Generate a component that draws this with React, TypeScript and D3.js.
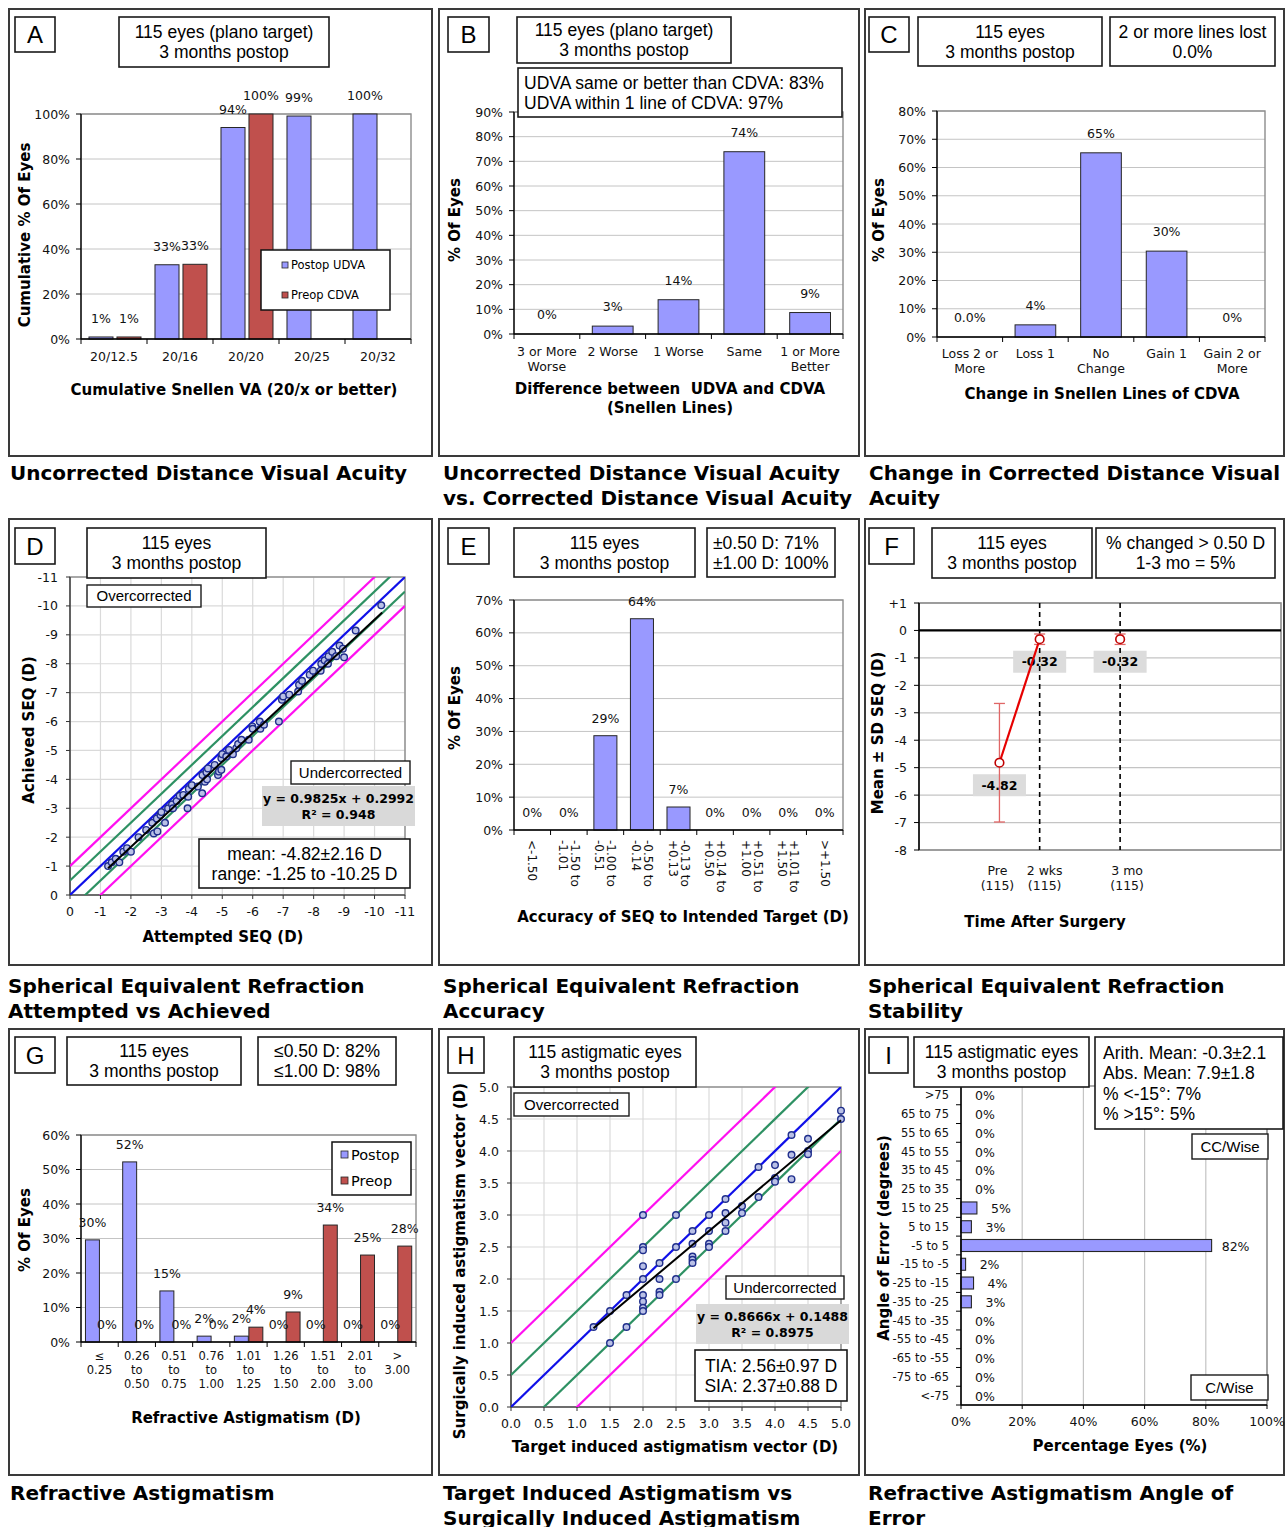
import React from 'react';
import * as d3 from 'd3';

const W = 1285;
const H = 1527;
const FA = "'Liberation Sans', Arial, Helvetica, sans-serif";
const FV = "'DejaVu Sans', Verdana, sans-serif";
const BAR_BLUE = '#9999FF';
const BAR_RED = '#C0504D';
const BAR_EDGE = '#262626';
const GRID = '#C4C4C4';
const LIGHT_GRID = '#DADADA';
const PLOT_EDGE = '#8C8C8C';
const LINE_BLUE = '#1010E8';
const LINE_GREEN = '#2E9163';
const LINE_MAGENTA = '#FF10F0';

// ---------- Panel A: cumulative UDVA ----------
const aCategories = ['20/12.5', '20/16', '20/20', '20/25', '20/32'];
const aPostopUDVA = [0.9, 33, 94, 99.1, 100];
const aPreopCDVA = [0.9, 33.2, 100, null, null];
const aPostopLabels = ['1%', '33%', '94%', '99%', '100%'];
const aPreopLabels = ['1%', '33%', '100%', null, null];
const aYTicks = [0, 20, 40, 60, 80, 100];

// ---------- Panel B: UDVA vs CDVA ----------
const bCategories = ['3 or More\nWorse', '2 Worse', '1 Worse', 'Same', '1 or More\nBetter'];
const bValues = [0, 3.2, 13.9, 73.9, 8.7];
const bLabels = ['0%', '3%', '14%', '74%', '9%'];
const bYTicks = [0, 10, 20, 30, 40, 50, 60, 70, 80, 90];

// ---------- Panel C: change in CDVA ----------
const cCategories = ['Loss 2 or\nMore', 'Loss 1', 'No\nChange', 'Gain 1', 'Gain 2 or\nMore'];
const cValues = [0, 4.3, 65.2, 30.4, 0];
const cLabels = ['0.0%', '4%', '65%', '30%', '0%'];
const cYTicks = [0, 10, 20, 30, 40, 50, 60, 70, 80];

// ---------- Panel D: attempted vs achieved SEQ ----------
const dAttempted = [-1.25, -1.37, -1.5, -1.62, -1.75, -1.87, -2.0, -2.25, -2.5, -2.7, -2.75, -2.87, -2.85, -2.97, -3.0, -3.12, -3.22, -3.35, -3.38, -3.5, -3.6, -3.72, -3.86, -3.88, -3.9, -4.0, -4.2, -4.34, -4.35, -4.43, -4.48, -4.5, -4.53, -4.75, -4.86, -4.89, -4.97, -4.97, -5.0, -5.13, -5.22, -5.35, -5.46, -5.52, -5.63, -5.87, -5.99, -6.0, -6.23, -6.25, -6.37, -6.86, -6.96, -7.0, -7.2, -7.49, -7.52, -7.62, -7.87, -7.98, -8.23, -8.25, -8.36, -8.47, -8.49, -8.61, -8.74, -8.85, -8.96, -9.0, -9.38, -10.22];
const dAchieved = [-1.0, -1.13, -1.25, -1.13, -1.5, -1.62, -1.5, -2.0, -2.25, -2.5, -2.13, -2.2, -2.65, -2.77, -2.87, -2.5, -3.0, -3.14, -3.0, -3.25, -3.43, -3.46, -3.0, -3.4, -3.67, -3.8, -3.75, -3.52, -4.15, -3.92, -4.25, -4.0, -4.38, -4.5, -4.15, -4.27, -4.33, -4.73, -4.87, -4.79, -5.02, -4.87, -5.08, -5.22, -5.37, -5.37, -5.83, -5.75, -6.0, -5.75, -5.89, -6.0, -6.75, -6.87, -6.93, -7.04, -7.27, -7.41, -7.62, -7.76, -7.76, -8.0, -8.12, -8.0, -8.26, -8.41, -8.26, -8.63, -8.52, -8.22, -9.15, -10.02];
const dTicks = [0, -1, -2, -3, -4, -5, -6, -7, -8, -9, -10, -11];
const dFitSlope = 0.9825;
const dFitIntercept = 0.2992;
const dFitRange = [-1.25, -10.25];

// ---------- Panel E: SEQ accuracy ----------
const eCategories = ['<-1.50', '-1.50 to\n-1.01', '-1.00 to\n-0.51', '-0.50 to\n-0.14', '-0.13 to\n+0.13', '+0.14 to\n+0.50', '+0.51 to\n+1.00', '+1.01 to\n+1.50', '>+1.50'];
const eValues = [0, 0, 28.7, 64.3, 7.0, 0, 0, 0, 0];
const eLabels = ['0%', '0%', '29%', '64%', '7%', '0%', '0%', '0%', '0%'];
const eYTicks = [0, 10, 20, 30, 40, 50, 60, 70];

// ---------- Panel F: SEQ stability ----------
const fTimes = ['Pre', '2 wks', '3 mo'];
const fCounts = ['(115)', '(115)', '(115)'];
const fTimePos = [0, 1, 3];
const fMeans = [-4.82, -0.32, -0.32];
const fSDs = [2.16, 0.19, 0.19];
const fMeanLabels = ['-4.82', '-0.32', '-0.32'];
const fYTicks = [1, 0, -1, -2, -3, -4, -5, -6, -7, -8];
const fYTickLabels = ['+1', '0', '-1', '-2', '-3', '-4', '-5', '-6', '-7', '-8'];

// ---------- Panel G: refractive astigmatism ----------
const gCategories = ['≤\n0.25', '0.26\nto\n0.50', '0.51\nto\n0.75', '0.76\nto\n1.00', '1.01\nto\n1.25', '1.26\nto\n1.50', '1.51\nto\n2.00', '2.01\nto\n3.00', '>\n3.00'];
const gPostop = [29.6, 52.2, 14.8, 1.7, 1.7, 0, 0, 0, 0];
const gPreop = [0, 0, 0, 0, 4.3, 8.7, 33.9, 25.2, 27.8];
const gPostopLabels = ['30%', '52%', '15%', '2%', '2%', '0%', '0%', '0%', '0%'];
const gPreopLabels = ['0%', '0%', '0%', '0%', '4%', '9%', '34%', '25%', '28%'];
const gYTicks = [0, 10, 20, 30, 40, 50, 60];

// ---------- Panel H: TIA vs SIA ----------
const hTarget = [1.25, 1.5, 1.5, 1.75, 1.75, 2.0, 2.0, 2.0, 2.0, 2.0, 2.0, 2.0, 2.0, 2.0, 2.25, 2.25, 2.25, 2.25, 2.5, 2.5, 2.5, 2.75, 2.75, 2.75, 2.75, 2.75, 3.0, 3.0, 3.0, 3.0, 3.25, 3.25, 3.25, 3.25, 3.5, 3.5, 3.75, 3.75, 4.0, 4.0, 4.0, 4.25, 4.25, 4.25, 4.5, 4.5, 4.5, 5.0, 5.0];
const hSurgical = [1.25, 1.5, 1.0, 1.75, 1.25, 3.0, 2.5, 2.45, 2.2, 2.0, 1.75, 1.65, 1.55, 1.5, 2.25, 2.0, 1.8, 1.75, 3.0, 2.5, 2.0, 2.75, 2.55, 2.35, 2.3, 2.25, 3.0, 2.75, 2.55, 2.5, 3.25, 3.03, 2.88, 2.75, 3.14, 3.03, 3.75, 3.28, 3.78, 3.58, 3.52, 4.25, 3.94, 3.56, 4.19, 4.0, 3.95, 4.63, 4.5];
const hTicks = [0, 0.5, 1, 1.5, 2, 2.5, 3, 3.5, 4, 4.5, 5];
const hFitSlope = 0.8666;
const hFitIntercept = 0.1488;
const hFitRange = [1.25, 5.0];

// ---------- Panel I: angle of error ----------
const iCategories = ['>75', '65 to 75', '55 to 65', '45 to 55', '35 to 45', '25 to 35', '15 to 25', '5 to 15', '-5 to 5', '-15 to -5', '-25 to -15', '-35 to -25', '-45 to -35', '-55 to -45', '-65 to -55', '-75 to -65', '<-75'];
const iValues = [0, 0, 0, 0, 0, 0, 5.2, 3.4, 81.9, 1.5, 4.1, 3.4, 0, 0, 0, 0, 0];
const iLabels = ['0%', '0%', '0%', '0%', '0%', '0%', '5%', '3%', '82%', '2%', '4%', '3%', '0%', '0%', '0%', '0%', '0%'];
const iXTicks = [0, 20, 40, 60, 80, 100];

// ---------- helpers ----------
function Lines({ x, y, lines, fs, lh = 0, anchor = 'middle', font = FV, weight = 400, fill = '#000' }: any) {
  return (
    <text x={x} y={y} fontSize={fs} fontFamily={font} fontWeight={weight} textAnchor={anchor} fill={fill} style={{ whiteSpace: 'pre' }}>
      {lines.map((s: string, i: number) => (
        <tspan key={i} x={x} dy={i === 0 ? 0 : lh}>{s}</tspan>
      ))}
    </text>
  );
}

function Box({ x, y, w, h, lines, fs = 17.5, lh = 20, anchor = 'middle', pad = 6, fill = '#fff', stroke = '#1a1a1a', sw = 1.6, font = FA, weight = 400 }: any) {
  const n = lines.length;
  const ty = y + h / 2 - ((n - 1) * lh) / 2 + fs * 0.36;
  const tx = anchor === 'middle' ? x + w / 2 : x + pad;
  return (
    <g>
      <rect x={x} y={y} width={w} height={h} fill={fill} stroke={stroke} strokeWidth={sw} />
      <Lines x={tx} y={ty} lines={lines} fs={fs} lh={lh} anchor={anchor} font={font} weight={weight} />
    </g>
  );
}

function Letter({ x, y, w, h, ch }: any) {
  return <Box x={x} y={y} w={w} h={h} lines={[ch]} fs={24} />;
}

function YTitle({ cx, cy, text, fs = 15 }: any) {
  return (
    <text transform={`translate(${cx + fs * 0.36},${cy}) rotate(-90)`} textAnchor="middle" fontSize={fs} fontFamily={FV} fontWeight={700}>
      {text}
    </text>
  );
}

function XTitle({ cx, y, lines, fs = 15, lh = 18 }: any) {
  return <Lines x={cx} y={y} lines={lines} fs={fs} lh={lh} weight={700} />;
}

function VBarChart({ l, t, r, b, yMax, yTicks, cats, series, catFs = 12.5, catY, catLh = 15, rotateCats = false, labelGap = 13, labelFs = 12.5 }: any) {
  const idx = d3.range(cats.length);
  const x = d3.scaleBand<number>().domain(idx).range([l, r]).padding(0);
  const y = d3.scaleLinear().domain([0, yMax]).range([b, t]);
  const bw = x.bandwidth();
  return (
    <g>
      {yTicks.filter((v: number) => v > 0).map((v: number) => (
        <line key={'g' + v} x1={l} x2={r} y1={y(v)} y2={y(v)} stroke={GRID} strokeWidth={1} />
      ))}
      <rect x={l} y={t} width={r - l} height={b - t} fill="none" stroke={PLOT_EDGE} strokeWidth={1.4} />
      {series.map((s: any, si: number) =>
        s.values.map((v: number | null, i: number) =>
          v == null || v <= 0 ? null : (
            <rect key={`b${si}-${i}`} x={(x(i) as number) + s.offset * bw} y={y(v)} width={s.width * bw} height={b - y(v)} fill={s.color} stroke={BAR_EDGE} strokeWidth={1} />
          )
        )
      )}
      <line x1={l} x2={l} y1={t} y2={b} stroke="#000" strokeWidth={1.3} />
      <line x1={l} x2={r} y1={b} y2={b} stroke="#000" strokeWidth={1.4} />
      {yTicks.map((v: number) => (
        <line key={'t' + v} x1={l - 5} x2={l} y1={y(v)} y2={y(v)} stroke="#000" strokeWidth={1} />
      ))}
      {d3.range(cats.length + 1).map((i) => (
        <line key={'xt' + i} x1={l + i * bw} x2={l + i * bw} y1={b} y2={b + 5} stroke="#000" strokeWidth={1} />
      ))}
      {yTicks.map((v: number) => (
        <text key={'yl' + v} x={l - 11} y={y(v) + 4.5} textAnchor="end" fontSize={12.5} fontFamily={FV} fill="#111">
          {v}%
        </text>
      ))}
      {series.map((s: any, si: number) =>
        (s.labels || []).map((lab: string | null, i: number) =>
          lab == null ? null : (
            <text key={`l${si}-${i}`} x={(x(i) as number) + (s.offset + s.width / 2) * bw} y={y(s.values[i] || 0) - labelGap} textAnchor="middle" fontSize={labelFs} fontFamily={FV} fill="#111">
              {lab}
            </text>
          )
        )
      )}
      {cats.map((c: string, i: number) => {
        const cx = (x(i) as number) + bw / 2;
        const parts = c.split('\n');
        if (rotateCats) {
          return (
            <text key={'c' + i} transform={`translate(${cx},${catY}) rotate(90)`} fontSize={catFs} fontFamily={FV} textAnchor="start" dominantBaseline="central" fill="#111">
              {parts.map((p, k) => (
                <tspan key={k} x={0} y={(k - (parts.length - 1) / 2) * catLh}>{p}</tspan>
              ))}
            </text>
          );
        }
        return <Lines key={'c' + i} x={cx} y={catY} lines={parts} fs={catFs} lh={catLh} fill="#111" />;
      })}
    </g>
  );
}

function ScatterChart({ l, t, r, b, domain, ticks, fmt, xs, ys, slope, intercept, fitRange, sign, clipId }: any) {
  const x = d3.scaleLinear().domain(domain).range([l, r]);
  const y = d3.scaleLinear().domain(domain).range([b, t]);
  const refs = [
    { o: 1, c: LINE_MAGENTA },
    { o: -1, c: LINE_MAGENTA },
    { o: 0.5, c: LINE_GREEN },
    { o: -0.5, c: LINE_GREEN },
    { o: 0, c: LINE_BLUE },
  ];
  const line = d3.line<[number, number]>().x((d) => x(d[0])).y((d) => y(d[1]));
  const fitPts: [number, number][] = fitRange.map((v: number) => [v, slope * v + intercept]);
  return (
    <g>
      <defs>
        <clipPath id={clipId}>
          <rect x={l} y={t} width={r - l} height={b - t} />
        </clipPath>
      </defs>
      {ticks.map((v: number) => (
        <g key={'g' + v}>
          <line x1={x(v)} x2={x(v)} y1={t} y2={b} stroke={LIGHT_GRID} strokeWidth={1.2} />
          <line x1={l} x2={r} y1={y(v)} y2={y(v)} stroke={LIGHT_GRID} strokeWidth={1.2} />
        </g>
      ))}
      <rect x={l} y={t} width={r - l} height={b - t} fill="none" stroke={PLOT_EDGE} strokeWidth={1.4} />
      <line x1={l} x2={l} y1={t} y2={b} stroke="#333" strokeWidth={1.2} />
      <line x1={l} x2={r} y1={b} y2={b} stroke="#333" strokeWidth={1.2} />
      {ticks.map((v: number) => (
        <g key={'t' + v}>
          <line x1={x(v)} x2={x(v)} y1={b} y2={b + 4} stroke="#333" />
          <line x1={l - 4} x2={l} y1={y(v)} y2={y(v)} stroke="#333" />
          <text x={x(v)} y={b + 21} textAnchor="middle" fontSize={12.5} fontFamily={FV} fill="#111">{fmt(v)}</text>
          <text x={l - 12} y={y(v) + 4.5} textAnchor="end" fontSize={12.5} fontFamily={FV} fill="#111">{fmt(v)}</text>
        </g>
      ))}
      <g clipPath={`url(#${clipId})`}>
        {refs.map((rf, i) => (
          <path key={'r' + i} d={line([[domain[0], domain[0] + rf.o * sign], [domain[1] + rf.o * sign * 0 + domain[1] - domain[1], domain[1] + rf.o * sign]]) as string} fill="none" stroke={rf.c} strokeWidth={2.2} />
        ))}
      </g>
      {xs.map((v: number, i: number) => (
        <circle key={'p' + i} cx={x(v)} cy={y(ys[i])} r={3.3} fill="#B9C0E6" stroke="#1F2E8C" strokeWidth={1.4} />
      ))}
      <path d={line(fitPts) as string} fill="none" stroke="#000" strokeWidth={2} />
    </g>
  );
}

// ---------- panels ----------
function PanelA() {
  return (
    <g>
      <VBarChart l={81} t={114} r={411} b={339} yMax={100} yTicks={aYTicks} cats={aCategories}
        series={[
          { values: aPostopUDVA, labels: aPostopLabels, color: BAR_BLUE, offset: 0.121, width: 0.364 },
          { values: aPreopCDVA, labels: aPreopLabels, color: BAR_RED, offset: 0.545, width: 0.364 },
        ]}
        catY={360.5} labelGap={14} />
      <rect x={261} y={250} width={129} height={60} fill="#fff" stroke="#111" strokeWidth={1.5} />
      <rect x={282} y={262} width={6} height={6} fill={BAR_BLUE} stroke={BAR_EDGE} strokeWidth={0.8} />
      <text x={291} y={269} fontSize={11.5} fontFamily={FV}>Postop UDVA</text>
      <rect x={282} y={292} width={6} height={6} fill={BAR_RED} stroke={BAR_EDGE} strokeWidth={0.8} />
      <text x={291} y={299} fontSize={11.5} fontFamily={FV}>Preop CDVA</text>
      <YTitle cx={25} cy={235} text="Cumulative % Of Eyes" />
      <XTitle cx={234} y={395} lines={['Cumulative Snellen VA (20/x or better)']} />
      <Letter x={15} y={17} w={40} h={35} ch="A" />
      <Box x={119} y={17} w={210} h={50} lines={['115 eyes (plano target)', '3 months postop']} />
    </g>
  );
}

function PanelB() {
  return (
    <g>
      <VBarChart l={514} t={112} r={843} b={334} yMax={90} yTicks={bYTicks} cats={bCategories}
        series={[{ values: bValues, labels: bLabels, color: BAR_BLUE, offset: 0.19, width: 0.62 }]}
        catY={355.5} catLh={15} labelGap={15} />
      <Box x={518} y={68} w={324} h={49} anchor="start" pad={6} lines={['UDVA same or better than CDVA: 83%', 'UDVA within 1 line of CDVA: 97%']} />
      <YTitle cx={455} cy={220} text="% Of Eyes" />
      <XTitle cx={670} y={394} lines={['Difference between  UDVA and CDVA', '(Snellen Lines)']} lh={18.5} />
      <Letter x={448} y={17} w={41} h={35} ch="B" />
      <Box x={517} y={17} w={214} h={46} lines={['115 eyes (plano target)', '3 months postop']} />
    </g>
  );
}

function PanelC() {
  return (
    <g>
      <VBarChart l={937} t={111} r={1265} b={337} yMax={80} yTicks={cYTicks} cats={cCategories}
        series={[{ values: cValues, labels: cLabels, color: BAR_BLUE, offset: 0.19, width: 0.62 }]}
        catY={358} catLh={14.5} labelGap={15} />
      <YTitle cx={879} cy={220} text="% Of Eyes" />
      <XTitle cx={1102} y={398.5} lines={['Change in Snellen Lines of CDVA']} />
      <Letter x={869} y={17} w={40} h={35} ch="C" />
      <Box x={918} y={17} w={184} h={49} lines={['115 eyes', '3 months postop']} />
      <Box x={1110} y={17} w={165} h={49} lines={['2 or more lines lost', '0.0%']} />
    </g>
  );
}

function PanelD() {
  return (
    <g>
      <ScatterChart l={70} t={577} r={405} b={895} domain={[0, -11]} ticks={dTicks}
        fmt={(v: number) => (v === 0 ? '0' : String(v))} xs={dAttempted} ys={dAchieved}
        slope={dFitSlope} intercept={dFitIntercept} fitRange={dFitRange} sign={-1} clipId="clipD" />
      <Box x={87} y={585} w={114} h={22} lines={['Overcorrected']} fs={15} sw={1.4} />
      <Box x={291} y={761} w={119} h={23} lines={['Undercorrected']} fs={15} sw={1.4} />
      <Box x={262} y={786} w={153} h={40} lines={['y = 0.9825x + 0.2992', 'R² = 0.948']} fs={12.5} lh={16} fill="#D9D9D9" stroke="none" font={FV} weight={700} />
      <Box x={199} y={839} w={211} h={49} lines={['mean: -4.82±2.16 D', 'range: -1.25 to -10.25 D']} />
      <YTitle cx={29} cy={730} text="Achieved SEQ (D)" />
      <XTitle cx={223} y={941.5} lines={['Attempted SEQ (D)']} />
      <Letter x={15} y={528} w={40} h={36} ch="D" />
      <Box x={87} y={528} w={179} h={50} lines={['115 eyes', '3 months postop']} />
    </g>
  );
}

function PanelE() {
  return (
    <g>
      <VBarChart l={514} t={600} r={843} b={830} yMax={70} yTicks={eYTicks} cats={eCategories}
        series={[{ values: eValues, labels: eLabels, color: BAR_BLUE, offset: 0.185, width: 0.63 }]}
        catY={840} catLh={12} catFs={12} rotateCats labelGap={13} />
      <YTitle cx={455} cy={708} text="% Of Eyes" />
      <XTitle cx={683} y={921.5} lines={['Accuracy of SEQ to Intended Target (D)']} />
      <Letter x={448} y={528} w={41} h={36} ch="E" />
      <Box x={514} y={528} w={181} h={49} lines={['115 eyes', '3 months postop']} />
      <Box x={707} y={528} w={128} h={49} anchor="start" pad={6} lines={['±0.50 D: 71%', '±1.00 D: 100%']} />
    </g>
  );
}

function PanelF() {
  const l = 919, t = 603, r = 1281, b = 850;
  const x = d3.scaleLinear().domain([-2, 7]).range([l, r]);
  const y = d3.scaleLinear().domain([-8, 1]).range([b, t]);
  const pts: [number, number][] = fTimePos.map((p, i) => [x(p), y(fMeans[i])]);
  const path = d3.line()(pts.slice(0, 2)) as string;
  const capW = 5.5;
  return (
    <g>
      {fYTicks.map((v) => (
        <line key={'g' + v} x1={l} x2={r} y1={y(v)} y2={y(v)} stroke={GRID} strokeWidth={1.2} />
      ))}
      <rect x={l} y={t} width={r - l} height={b - t} fill="none" stroke={PLOT_EDGE} strokeWidth={1.6} />
      <line x1={l} x2={r} y1={y(0)} y2={y(0)} stroke="#000" strokeWidth={2.2} />
      <line x1={l} x2={l} y1={t} y2={b} stroke="#000" strokeWidth={1.5} />
      {fYTicks.map((v, i) => (
        <g key={'t' + v}>
          <line x1={l - 5} x2={l} y1={y(v)} y2={y(v)} stroke="#000" />
          <text x={l - 12} y={y(v) + 4.5} textAnchor="end" fontSize={12.5} fontFamily={FV} fill="#111">{fYTickLabels[i]}</text>
        </g>
      ))}
      {fTimePos.map((p, i) => (
        <g key={'lb' + i}>
          <rect x={x(p) - 26.5} y={y(fMeans[i]) + 11.5} width={53} height={22} fill="#DCDCDC" />
          <text x={x(p)} y={y(fMeans[i]) + 27} textAnchor="middle" fontSize={12.5} fontFamily={FV} fontWeight={700}>{fMeanLabels[i]}</text>
        </g>
      ))}
      {fTimePos.slice(1).map((p) => (
        <line key={'d' + p} x1={x(p)} x2={x(p)} y1={t} y2={b} stroke="#000" strokeWidth={1.6} strokeDasharray="5,4" />
      ))}
      {fTimePos.map((p, i) => (
        <g key={'e' + i} stroke="#E06666" strokeWidth={1.3}>
          <line x1={x(p)} x2={x(p)} y1={y(fMeans[i] + fSDs[i])} y2={y(fMeans[i] - fSDs[i])} />
          <line x1={x(p) - capW} x2={x(p) + capW} y1={y(fMeans[i] + fSDs[i])} y2={y(fMeans[i] + fSDs[i])} />
          <line x1={x(p) - capW} x2={x(p) + capW} y1={y(fMeans[i] - fSDs[i])} y2={y(fMeans[i] - fSDs[i])} />
        </g>
      ))}
      <path d={path} fill="none" stroke="#E60000" strokeWidth={2.2} />
      {pts.map((p, i) => (
        <circle key={'m' + i} cx={p[0]} cy={p[1]} r={4.3} fill="#fff" stroke="#C00000" strokeWidth={1.6} />
      ))}
      {fTimePos.map((p, i) => (
        <Lines key={'x' + i} x={x(p) + (i === 0 ? -2 : i === 1 ? 5 : 7)} y={874.5} lines={[fTimes[i], fCounts[i]]} fs={12.5} lh={15} fill="#111" />
      ))}
      <YTitle cx={878} cy={733} text="Mean ± SD SEQ (D)" />
      <XTitle cx={1045} y={926.5} lines={['Time After Surgery']} />
      <Letter x={869} y={528} w={45} h={36} ch="F" />
      <Box x={932} y={528} w={160} h={50} lines={['115 eyes', '3 months postop']} />
      <Box x={1096} y={528} w={179} h={50} lines={['% changed > 0.50 D', '1-3 mo = 5%']} />
    </g>
  );
}

function PanelG() {
  return (
    <g>
      <VBarChart l={81} t={1135} r={416} b={1342} yMax={60} yTicks={gYTicks} cats={gCategories}
        series={[
          { values: gPostop, labels: gPostopLabels, color: BAR_BLUE, offset: 0.12, width: 0.375 },
          { values: gPreop, labels: gPreopLabels, color: BAR_RED, offset: 0.51, width: 0.375 },
        ]}
        catY={1360} catLh={14} catFs={11.5} labelGap={13} />
      <rect x={332} y={1142} width={79} height={53} fill="#fff" stroke="#111" strokeWidth={1.5} />
      <rect x={341} y={1151} width={7} height={7} fill={BAR_BLUE} stroke={BAR_EDGE} strokeWidth={0.8} />
      <text x={351} y={1160} fontSize={14.5} fontFamily={FV}>Postop</text>
      <rect x={341} y={1177} width={7} height={7} fill={BAR_RED} stroke={BAR_EDGE} strokeWidth={0.8} />
      <text x={351} y={1186} fontSize={14.5} fontFamily={FV}>Preop</text>
      <YTitle cx={25} cy={1230} text="% Of Eyes" />
      <XTitle cx={246} y={1422.5} lines={['Refractive Astigmatism (D)']} />
      <Letter x={15} y={1037} w={40} h={36} ch="G" />
      <Box x={67} y={1037} w={174} h={48} lines={['115 eyes', '3 months postop']} />
      <Box x={258} y={1037} w={138} h={48} lines={['≤0.50 D: 82%', '≤1.00 D: 98%']} />
    </g>
  );
}

function PanelH() {
  return (
    <g>
      <ScatterChart l={511} t={1087} r={841} b={1407} domain={[0, 5]} ticks={hTicks}
        fmt={(v: number) => v.toFixed(1)} xs={hTarget} ys={hSurgical}
        slope={hFitSlope} intercept={hFitIntercept} fitRange={hFitRange} sign={1} clipId="clipH" />
      <Box x={514} y={1093} w={115} h={23} lines={['Overcorrected']} fs={15} sw={1.4} />
      <Box x={726} y={1276} w={118} h={23} lines={['Undercorrected']} fs={15} sw={1.4} />
      <Box x={696} y={1304} w={153} h={40} lines={['y = 0.8666x + 0.1488', 'R² = 0.8975']} fs={12.5} lh={16} fill="#D9D9D9" stroke="none" font={FV} weight={700} />
      <Box x={695} y={1350} w={152} h={51} lines={['TIA: 2.56±0.97 D', 'SIA: 2.37±0.88 D']} />
      <YTitle cx={460} cy={1261} text="Surgically induced astigmatism vector (D)" />
      <XTitle cx={675} y={1451.5} lines={['Target induced astigmatism vector (D)']} />
      <Letter x={448} y={1037} w={36} h={36} ch="H" />
      <Box x={514} y={1037} w={182} h={50} lines={['115 astigmatic eyes', '3 months postop']} />
    </g>
  );
}

function PanelI() {
  const l = 961, t = 1086, r = 1267, b = 1405;
  const x = d3.scaleLinear().domain([0, 100]).range([l, r]);
  const y = d3.scaleBand<number>().domain(d3.range(iCategories.length)).range([t, b]).padding(0);
  const bh = y.bandwidth();
  return (
    <g>
      {iXTicks.filter((v) => v > 0).map((v) => (
        <line key={'g' + v} x1={x(v)} x2={x(v)} y1={t} y2={b} stroke={GRID} strokeWidth={1.2} />
      ))}
      <rect x={l} y={t} width={r - l} height={b - t} fill="none" stroke={PLOT_EDGE} strokeWidth={1.4} />
      {iValues.map((v, i) =>
        v > 0 ? (
          <rect key={'b' + i} x={l} y={(y(i) as number) + bh * 0.18} width={x(v) - l} height={bh * 0.64} fill={BAR_BLUE} stroke={BAR_EDGE} strokeWidth={1.1} />
        ) : null
      )}
      <line x1={l} x2={l} y1={t} y2={b} stroke="#000" strokeWidth={1.5} />
      <line x1={l} x2={r} y1={b} y2={b} stroke="#000" strokeWidth={1.3} />
      {d3.range(iCategories.length + 1).map((i) => (
        <line key={'yt' + i} x1={l - 5} x2={l} y1={t + i * bh} y2={t + i * bh} stroke="#000" />
      ))}
      {iCategories.map((c, i) => (
        <text key={'c' + i} x={949} y={(y(i) as number) + bh / 2 + 4} textAnchor="end" fontSize={11.5} fontFamily={FV} fill="#111">{c}</text>
      ))}
      {iLabels.map((lab, i) => (
        <text key={'l' + i} x={x(iValues[i]) + 24} y={(y(i) as number) + bh / 2 + 5} textAnchor="middle" fontSize={12.5} fontFamily={FV} fill="#111">{lab}</text>
      ))}
      {iXTicks.map((v) => (
        <g key={'xt' + v}>
          <line x1={x(v)} x2={x(v)} y1={b} y2={b + 4} stroke="#000" />
          <text x={x(v)} y={1426} textAnchor="middle" fontSize={12.5} fontFamily={FV} fill="#111">{v}%</text>
        </g>
      ))}
      <Box x={1192} y={1134} w={76} h={25} lines={['CC/Wise']} fs={15} sw={1.4} />
      <Box x={1191} y={1375} w={77} h={25} lines={['C/Wise']} fs={15} sw={1.4} />
      <YTitle cx={884} cy={1238} text="Angle of Error (degrees)" />
      <XTitle cx={1120} y={1450.5} lines={['Percentage Eyes (%)']} />
      <Letter x={869} y={1037} w={39} h={36} ch="I" />
      <Box x={914} y={1037} w={175} h={50} lines={['115 astigmatic eyes', '3 months postop']} />
      <Box x={1095} y={1037} w={188} h={92} anchor="start" pad={8} lh={20.5} lines={['Arith. Mean: -0.3±2.1', 'Abs. Mean: 7.9±1.8', '% <-15°: 7%', '% >15°: 5%']} />
    </g>
  );
}

const frames = [
  [9, 9, 423, 447], [439, 9, 420, 447], [865, 9, 419, 447],
  [9, 519, 423, 446], [439, 519, 420, 446], [865, 519, 419, 446],
  [9, 1029, 423, 446], [439, 1029, 420, 446], [865, 1029, 419, 446],
];

const captions = [
  { x: 10, y: 480, lines: ['Uncorrected Distance Visual Acuity'] },
  { x: 443, y: 480, lines: ['Uncorrected Distance Visual Acuity', 'vs. Corrected Distance Visual Acuity'] },
  { x: 869, y: 480, lines: ['Change in Corrected Distance Visual', 'Acuity'] },
  { x: 8, y: 993, lines: ['Spherical Equivalent Refraction', 'Attempted vs Achieved'] },
  { x: 443, y: 993, lines: ['Spherical Equivalent Refraction', 'Accuracy'] },
  { x: 868, y: 993, lines: ['Spherical Equivalent Refraction', 'Stability'] },
  { x: 10, y: 1500, lines: ['Refractive Astigmatism'] },
  { x: 443, y: 1500, lines: ['Target Induced Astigmatism vs', 'Surgically Induced Astigmatism'] },
  { x: 868, y: 1500, lines: ['Refractive Astigmatism Angle of', 'Error'] },
];

export default function App() {
  return (
    <svg width={W} height={H} viewBox={`0 0 ${W} ${H}`} style={{ position: 'absolute', left: 0, top: 0, background: '#fff' }} xmlns="http://www.w3.org/2000/svg">
      <rect width={W} height={H} fill="#fff" />
      {frames.map((f, i) => (
        <rect key={'f' + i} x={f[0]} y={f[1]} width={f[2]} height={f[3]} fill="#fff" stroke="#3A3A3A" strokeWidth={2} />
      ))}
      <PanelA />
      <PanelB />
      <PanelC />
      <PanelD />
      <PanelE />
      <PanelF />
      <PanelG />
      <PanelH />
      <PanelI />
      {captions.map((c, i) => (
        <Lines key={'cap' + i} x={c.x} y={c.y} lines={c.lines} fs={20} lh={25} anchor="start" weight={700} />
      ))}
    </svg>
  );
}
